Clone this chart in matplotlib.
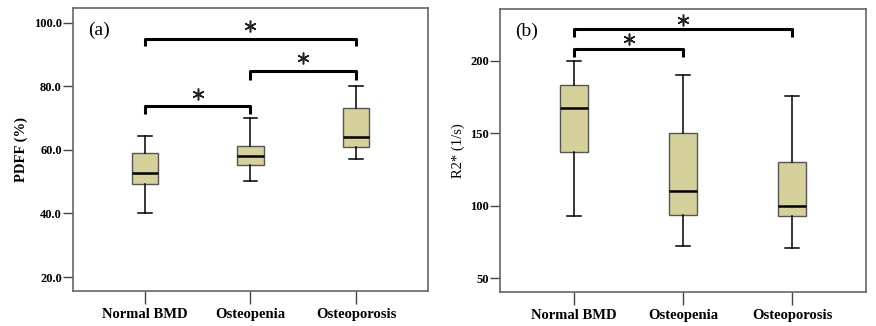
import matplotlib
matplotlib.use("Agg")
import matplotlib.pyplot as plt

groups = ["Normal BMD", "Osteopenia", "Osteoporosis"]

# panel (a): PDFF (%)
pdff_whislo = [40.0, 50.2, 57.2]
pdff_q1 = [49.3, 55.3, 61.0]
pdff_med = [52.8, 58.1, 64.1]
pdff_q3 = [59.1, 61.3, 73.2]
pdff_whishi = [64.4, 70.1, 80.0]
pdff_ticks = [20.0, 40.0, 60.0, 80.0, 100.0]

# panel (b): R2* (1/s)
r2_whislo = [92.5, 72.0, 70.5]
r2_q1 = [137.0, 93.2, 93.0]
r2_med = [167.1, 110.3, 99.6]
r2_q3 = [182.9, 150.0, 130.0]
r2_whishi = [200.0, 190.4, 175.3]
r2_ticks = [50, 100, 150, 200]

# significance brackets: (group i, group j, bracket top, leg end, star y)
pdff_sig = [(1, 2, 73.9, 71.3, 77.6), (2, 3, 84.9, 82.0, 89.0), (1, 3, 95.0, 92.8, 99.1)]
r2_sig = [(1, 2, 208.2, 202.7, 215.0), (1, 3, 221.9, 216.0, 228.0)]

plt.rcParams['font.family'] = ['Liberation Serif', 'DejaVu Serif']

fig = plt.figure(figsize=(8.76, 3.26), dpi=100)
ax1 = fig.add_axes([0.0833, 0.1074, 0.4053, 0.868])
ax2 = fig.add_axes([0.5708, 0.1043, 0.4178, 0.868])

box_color = '#d6d09a'
frame_color = '#666666'


def draw_panel(ax, lo, q1, med, q3, hi, sig, ylim, yticks, ylabel, fmt, label_bold, tag):
    stats = []
    for i in range(len(groups)):
        stats.append(dict(whislo=lo[i], q1=q1[i], med=med[i], q3=q3[i], whishi=hi[i], fliers=[]))
    ax.bxp(stats, positions=[1, 2, 3], widths=0.25, patch_artist=True, showfliers=False,
           capwidths=0.13,
           boxprops=dict(facecolor=box_color, edgecolor='#555555', linewidth=1.0),
           medianprops=dict(color='black', linewidth=1.8),
           whiskerprops=dict(color='black', linewidth=1.1),
           capprops=dict(color='black', linewidth=1.1))

    # significance brackets and stars
    for a, b, top, leg, sy in sig:
        ax.plot([a, a, b, b], [leg, top, top, leg], color='black', linewidth=2.2,
                solid_joinstyle='round', solid_capstyle='butt')
        ax.plot([(a + b) / 2], [sy], marker=(6, 2, 0), markersize=8.5,
                markeredgewidth=1.1, color='#222222', linestyle='none')

    ax.set_xlim(0.32, 3.68)
    ax.set_ylim(*ylim)
    ax.set_yticks(yticks)
    ax.set_yticklabels([fmt.format(v) for v in yticks], fontweight='bold', fontsize=9)
    ax.set_xticks([1, 2, 3])
    ax.set_xticklabels(groups, fontweight='bold', fontsize=10.5)
    ax.tick_params(axis='x', length=9, width=1.0, color='#444444', pad=3)
    ax.tick_params(axis='y', length=7, width=1.0, color='#444444', pad=1)
    ax.set_ylabel(ylabel, fontsize=10.5, fontweight='bold' if label_bold else 'normal')
    for s in ax.spines.values():
        s.set_color(frame_color)
        s.set_linewidth(1.2)
    ax.text(0.042, 0.92, tag, transform=ax.transAxes, fontsize=14, va='center', ha='left')


draw_panel(ax1, pdff_whislo, pdff_q1, pdff_med, pdff_q3, pdff_whishi, pdff_sig,
           (15.6, 104.7), pdff_ticks, 'PDFF (%)', '{:.1f}', True, '(a)')
draw_panel(ax2, r2_whislo, r2_q1, r2_med, r2_q3, r2_whishi, r2_sig,
           (40.4, 235.6), r2_ticks, 'R2* (1/s)', '{:d}', False, '(b)')

fig.savefig('out.png', dpi=100)
